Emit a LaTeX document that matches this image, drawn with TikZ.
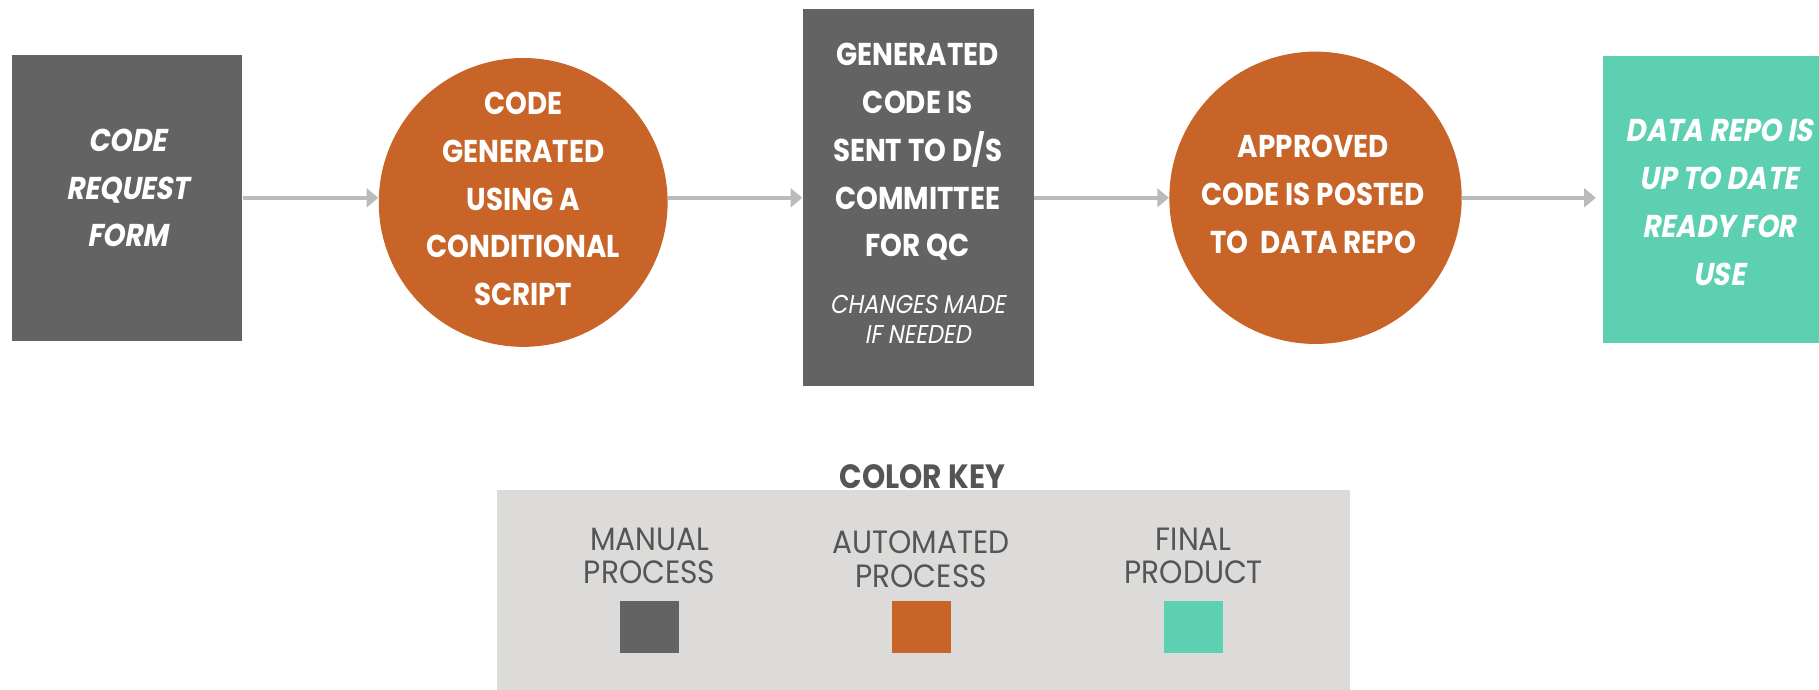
\documentclass[tikz,border=0pt]{standalone}
\usepackage{fontspec}
\usetikzlibrary{arrows.meta}
\newfontfamily\fmain[FakeStretch=0.88]{Poppins}
\newfontfamily\fmainit[FakeStretch=0.88,FakeSlant=0.18]{Poppins}
\newfontfamily\flegend[FakeStretch=0.92]{Poppins}
\definecolor{cgray}{HTML}{636363}
\definecolor{corange}{HTML}{C86428}
\definecolor{cteal}{HTML}{5ED0B2}
\definecolor{cpanel}{HTML}{DCDBD9}
\definecolor{carrow}{HTML}{BBBBBB}
\definecolor{ctext}{HTML}{555555}
\begin{document}
\begin{tikzpicture}[x=0.5pt,y=-0.5pt,
  shapebox/.style={rectangle, inner sep=0pt, draw=none},
  shapecirc/.style={circle, inner sep=0pt, draw=none, fill=corange},
  boldtxt/.style={inner sep=0pt, align=center, text=white, font={\fmain\bfseries\fontsize{13.6}{20.6}\selectfont}},
  bolditxt/.style={inner sep=0pt, align=center, text=white, font={\fmainit\bfseries\fontsize{13.6}{20.6}\selectfont}},
  smalltxt/.style={inner sep=0pt, align=center, text=white, font={\fmainit\fontsize{11.1}{13}\selectfont}},
  legtxt/.style={inner sep=0pt, align=center, text=ctext, font={\flegend\fontsize{13.9}{14.4}\selectfont}},
  swatch/.style={rectangle, inner sep=0pt, minimum width=25.5pt, minimum height=22.5pt},
  flow/.style={draw=carrow, line width=1.5pt, -{Triangle[length=5pt,width=8pt]}}]
\useasboundingbox (0,0) rectangle (1568,594);
% shapes
\node[shapebox, fill=cgray, minimum width=99.5pt, minimum height=123.5pt] (b1) at (109.5,170.5) {};
\node[shapecirc, minimum size=124.5pt] (c1) at (451,174.5) {};
\node[shapebox, fill=cgray, minimum width=99.5pt, minimum height=162.5pt] (b2) at (791.5,170.5) {};
\node[shapecirc, minimum size=126pt] (c2) at (1134,170.5) {};
\node[shapebox, fill=cteal, minimum width=100pt, minimum height=124pt] (b3) at (1482,172) {};
% texts
\node[bolditxt] (t1) at (110,162) {CODE\\REQUEST\\FORM};
\node[boldtxt] (t2) at (451,171.5) {CODE\\GENERATED\\USING A\\CONDITIONAL\\SCRIPT};
\node[boldtxt] (t3) at (791,131) {GENERATED\\CODE IS\\SENT TO D/S\\COMMITTEE\\FOR QC};
\node[smalltxt] (t3b) at (791,275) {CHANGES MADE\\IF NEEDED};
\node[boldtxt] (t4) at (1132,167.5) {APPROVED\\CODE IS POSTED\\TO\ \ DATA REPO};
\node[bolditxt] (t5) at (1482,174.5) {DATA REPO IS\\UP TO DATE\\READY FOR\\USE};
% connectors
\draw[flow] (b1.east) -- (b1.east -| c1.west);
\draw[flow] (c1.east |- b1.east) -- (b1.east -| b2.west);
\draw[flow] (b2.east) -- (b2.east -| c2.west);
\draw[flow] (c2.east) -- ([xshift=-3pt]b3.west |- c2.east);
% colour key
\node[inner sep=0pt, text=ctext, font={\fmain\bfseries\fontsize{14.5}{16}\selectfont}] (keytitle) at (795,411) {COLOR KEY};
\fill[cpanel] (428,422) rectangle (1164,600);
\node[legtxt] (l1) at (560,479) {MANUAL\\PROCESS};
\node[legtxt] (l2) at (794,482) {AUTOMATED\\PROCESS};
\node[legtxt] (l3) at (1029,479) {FINAL\\PRODUCT};
\node[swatch, fill=cgray] (s1) at (560,540.5) {};
\node[swatch, fill=corange] (s2) at (794.5,540.5) {};
\node[swatch, fill=cteal] (s3) at (1028.5,540.5) {};
\end{tikzpicture}
\end{document}
